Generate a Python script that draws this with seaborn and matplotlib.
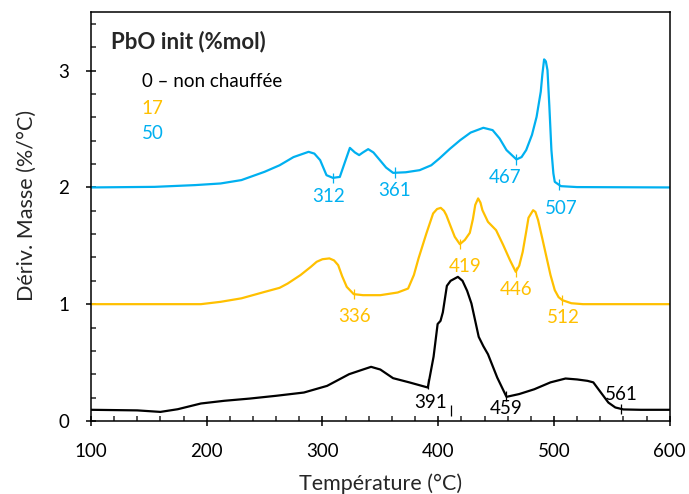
import numpy as np
import pandas as pd
import matplotlib
matplotlib.use("Agg")
import matplotlib.pyplot as plt
from matplotlib.ticker import MultipleLocator
import seaborn as sns

# --- data (temperature in °C, deriv. mass in %/°C) ---
black_t = [100, 140, 160, 175, 195, 215, 237, 260, 284, 304, 323, 335, 342, 350, 361, 375,
           391, 396, 399.5, 402, 404, 407.5, 410.7, 417, 421, 425, 428.7, 435, 439, 443, 451,
           459, 470, 483, 497, 510, 520, 529, 534, 540, 547, 553, 560, 575, 600]
black_v = [0.095, 0.09, 0.077, 0.10, 0.149, 0.172, 0.191, 0.215, 0.243, 0.30, 0.40, 0.44,
           0.463, 0.44, 0.366, 0.33, 0.286, 0.55, 0.83, 0.857, 0.93, 1.157, 1.20, 1.234,
           1.20, 1.114, 1.006, 0.72, 0.64, 0.571, 0.371, 0.206, 0.23, 0.271, 0.33, 0.363,
           0.355, 0.343, 0.33, 0.25, 0.157, 0.115, 0.098, 0.095, 0.095]

orange_t = [100, 195, 212, 230, 250, 263, 270, 281, 290, 295, 300, 306, 310, 313.6, 317,
            321, 327, 335, 350, 365, 374, 379, 383, 389.8, 395.6, 399, 402.2, 405, 407, 411,
            414.3, 418.7, 423, 427.3, 430, 432, 434.5, 436.5, 438.2, 443, 450, 456, 462, 467,
            470, 473, 476, 478, 482, 484, 486.3, 490, 493.5, 497, 500.7, 504, 507.3, 515,
            525, 600]
orange_v = [1.0, 1.0, 1.02, 1.05, 1.105, 1.14, 1.177, 1.249, 1.32, 1.363, 1.385, 1.392,
            1.375, 1.334, 1.24, 1.148, 1.086, 1.077, 1.077, 1.10, 1.134, 1.25, 1.392, 1.606,
            1.777, 1.815, 1.825, 1.80, 1.763, 1.66, 1.577, 1.514, 1.55, 1.611, 1.73, 1.85,
            1.906, 1.87, 1.805, 1.705, 1.634, 1.51, 1.377, 1.277, 1.33, 1.448, 1.62, 1.74,
            1.805, 1.79, 1.72, 1.56, 1.405, 1.25, 1.12, 1.06, 1.034, 1.008, 1.0, 1.0]

blue_t = [100, 155, 190, 212, 230, 250, 263, 275, 288, 293, 298, 303.5, 309, 315, 319,
          323.7, 328, 331.7, 335, 339.5, 344, 349.6, 355, 361, 372, 384, 394, 401, 410, 419,
          428, 439, 447, 453, 459, 467.6, 472, 476, 481, 485, 488.6, 490, 491.5, 493, 494.4,
          496, 497.8, 499.5, 500.7, 506, 520, 600]
blue_v = [2.0, 2.005, 2.02, 2.034, 2.063, 2.134, 2.19, 2.26, 2.305, 2.29, 2.234, 2.105,
          2.082, 2.09, 2.205, 2.339, 2.30, 2.277, 2.30, 2.328, 2.30, 2.234, 2.17, 2.125,
          2.13, 2.148, 2.19, 2.248, 2.33, 2.405, 2.47, 2.511, 2.491, 2.42, 2.32, 2.24, 2.26,
          2.32, 2.45, 2.605, 2.82, 2.97, 3.097, 3.08, 3.005, 2.70, 2.32, 2.12, 2.048, 2.011,
          2.003, 2.0]

# annotated temperatures: marker position, label text, label position
black_mark_t = [391.6, 458.7, 558.0]
black_mark_txt = ["391", "459", "561"]
black_lab_t = [393, 458.7, 558.5]
black_lab_v = [0.155, 0.109, 0.229]

orange_mark_t = [327.1, 418.7, 467.0, 507.3]
orange_mark_txt = ["336", "419", "446", "512"]
orange_lab_t = [327.5, 423.5, 467.6, 508]
orange_lab_v = [0.891, 1.326, 1.126, 0.886]

blue_mark_t = [309.3, 363.0, 467.6, 504.2]
blue_mark_txt = ["312", "361", "467", "507"]
blue_lab_t = [305, 361.9, 458.1, 506.5]
blue_lab_v = [1.92, 1.971, 2.086, 1.82]

series_names = ["0 – non chauffée", "17", "50"]
colors = ["#000000", "#FFC000", "#00B0F0"]

sns.set_style("ticks")
plt.rcParams['font.family'] = ['Lato', 'DejaVu Sans']

fig = plt.figure(figsize=(6.89, 4.94), dpi=100)
ax = fig.add_axes([0.132, 0.148, 0.840, 0.827])

curves = [(black_t, black_v), (orange_t, orange_v), (blue_t, blue_v)]
for (t, v), name, col in zip(curves, series_names, colors):
    df = pd.DataFrame({"T": t, "dm": v})
    sns.lineplot(data=df, x="T", y="dm", ax=ax, color=col, lw=1.6, sort=False,
                 estimator=None)

marks = [
    (black_t, black_v, black_mark_t, black_mark_txt, black_lab_t, black_lab_v, colors[0]),
    (orange_t, orange_v, orange_mark_t, orange_mark_txt, orange_lab_t, orange_lab_v, colors[1]),
    (blue_t, blue_v, blue_mark_t, blue_mark_txt, blue_lab_t, blue_lab_v, colors[2]),
]
for t, v, mt, txt, lt, lv, col in marks:
    mv = np.interp(mt, t, v)
    ax.vlines(mt, mv - 0.045, mv + 0.045, color=col, lw=0.9)
    for x, y, s in zip(lt, lv, txt):
        ax.text(x, y, s, color=col, fontsize=13.5, ha="center", va="center")

# stray tick under the black peak
ax.vlines([410.7], 0.04, 0.14, color="black", lw=0.9)

ax.set_xlim(100, 600)
ax.set_ylim(0, 3.5)
ax.xaxis.set_major_locator(MultipleLocator(100))
ax.xaxis.set_minor_locator(MultipleLocator(20))
ax.yaxis.set_major_locator(MultipleLocator(1))
ax.yaxis.set_minor_locator(MultipleLocator(0.2))
ax.tick_params(which="major", direction="inout", length=7.5, width=1.1, labelsize=13.5,
               colors="black", pad=12)
ax.tick_params(which="minor", direction="in", length=3.5, width=1.1)
for sp in ax.spines.values():
    sp.set_linewidth(1.1)
    sp.set_color("black")

ax.set_xlabel("Température (°C)", fontsize=15.5)
ax.set_ylabel("Dériv. Masse (%/°C)", fontsize=15.5)
ax.xaxis.set_label_coords(0.5, -0.128)
ax.yaxis.set_label_coords(-0.093, 0.528)

# legend drawn as coloured text
ax.text(0.034, 0.928, "PbO init (%mol)", transform=ax.transAxes, fontsize=16,
        fontweight="bold", va="center", ha="left")
leg_y = [0.83, 0.765, 0.704]
for name, col, y in zip(series_names, colors, leg_y):
    ax.text(0.0875, y, name, transform=ax.transAxes, color=col, fontsize=13.5,
            va="center", ha="left")

fig.savefig("out.png", dpi=100)
